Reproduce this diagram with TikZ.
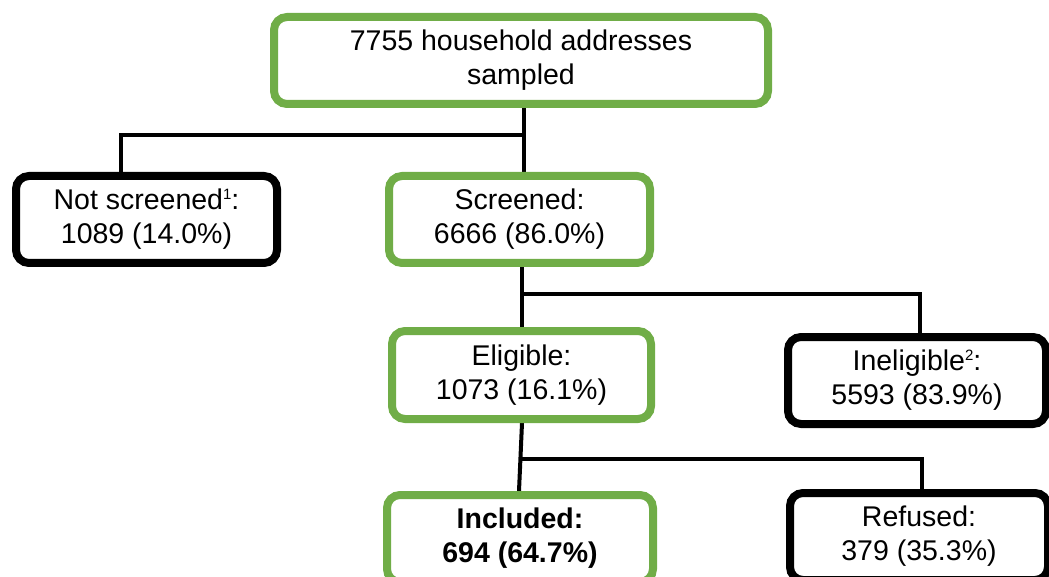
\documentclass[tikz,border=0pt]{standalone}
\usepackage{fontspec}
\setmainfont{Liberation Sans}
\usetikzlibrary{backgrounds}
\definecolor{boxgreen}{RGB}{112,173,71}
\newcommand{\supnum}[1]{\raisebox{10pt}{\fontsize{15}{15}\selectfont #1}}
\tikzset{
  box/.style={draw, fill=white, rounded corners=13pt, line width=8pt, align=center,
    inner sep=0pt, font=\fontsize{28.5}{34}\selectfont},
  gbox/.style={box, draw=boxgreen},
  kbox/.style={box, draw=black},
  conn/.style={draw=black, line width=4pt}
}
\begin{document}
\begin{tikzpicture}[x=1pt,y=-1pt]
\useasboundingbox (0,0) rectangle (1049,577);
\clip (0,0) rectangle (1049,577);
\node[gbox, minimum width=494pt, minimum height=87pt] (top) at (521,60.5) {7755 household addresses\\sampled};
\node[kbox, minimum width=261pt, minimum height=87pt] (nscr) at (146.5,219.5) {Not screened\supnum{1}:\\1089 (14.0\%)};
\node[gbox, minimum width=261pt, minimum height=87pt] (scr) at (519.5,219.5) {Screened:\\6666 (86.0\%)};
\node[gbox, minimum width=259pt, minimum height=88pt] (elig) at (521.5,375) {Eligible:\\1073 (16.1\%)};
\node[kbox, minimum width=258pt, minimum height=87pt] (inel) at (917,380.5) {Ineligible\supnum{2}:\\5593 (83.9\%)};
\node[gbox, minimum width=266pt, minimum height=87pt, font=\fontsize{28.5}{34}\selectfont\bfseries] (incl) at (520,538.5) {Included:\\694 (64.7\%)};
\node[kbox, minimum width=258pt, minimum height=87pt] (ref) at (919,536.5) {Refused:\\379 (35.3\%)};
\coordinate (j1) at (524,135);
\coordinate (j2) at (522,294);
\coordinate (j3) at (521,459);
\begin{scope}[on background layer]
\draw[conn] (top.south -| j1) -- (scr.north -| j1);
\draw[conn] (j1) -| (nscr.north -| 121,0);
\draw[conn] (scr.south -| j2) -- (elig.north -| j2);
\draw[conn] (j2) -| (inel.north -| 920,0);
\draw[conn] (elig.south -| j2) -- (incl.north -| 519,0);
\draw[conn] (j3) -| (ref.north -| 922,0);
\end{scope}
\end{tikzpicture}
\end{document}
